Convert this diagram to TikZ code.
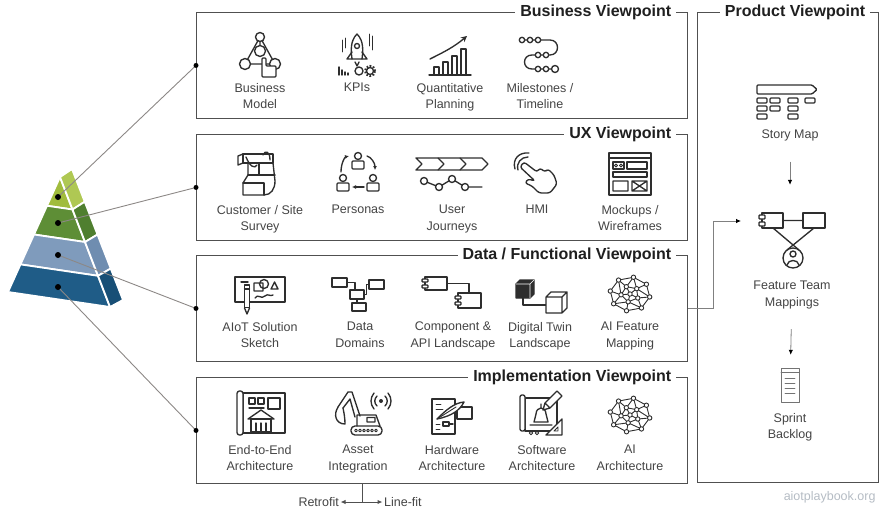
\documentclass[tikz,border=0pt]{standalone}
\usepackage{fontspec}
\setmainfont{Liberation Sans}
\usetikzlibrary{arrows.meta,positioning,calc}
\definecolor{frame}{HTML}{505050}
\definecolor{ink}{HTML}{2E2E2E}
\definecolor{txt}{HTML}{444444}
\definecolor{linkc}{HTML}{8C8886}
\definecolor{site}{HTML}{B5BCC4}
\definecolor{pyrA}{HTML}{A1BC3D}
\definecolor{pyrAs}{HTML}{AFC853}
\definecolor{pyrB}{HTML}{5E8E36}
\definecolor{pyrBs}{HTML}{4F7F2F}
\definecolor{pyrC}{HTML}{7F9BBC}
\definecolor{pyrCs}{HTML}{6F8DB0}
\definecolor{pyrD}{HTML}{1F5C87}
\definecolor{pyrDs}{HTML}{184F76}

\begin{document}
\begin{tikzpicture}[x=1pt,y=-1pt,
 vp/.style={draw=frame,line width=1.4pt,minimum height=105.5pt,inner sep=0pt,anchor=north west},
 vptitle/.style={fill=white,font=\fontsize{16}{18}\selectfont\bfseries,text=black!88,inner xsep=5pt,inner ysep=1pt},
 lbl/.style={align=center,font=\fontsize{12.5}{16.5}\selectfont,text=txt,anchor=north,inner sep=0pt},
 ic/.style={draw=ink,line width=1.35pt,line cap=round,line join=round},
 thinic/.style={ic,line width=0.9pt},
 link/.style={draw=linkc,line width=0.9pt},
 dot/.style={circle,fill=black,inner sep=0pt,minimum size=#1},dot/.default=5pt,
 tier/.style={draw=white,line width=1.8pt,line join=round},
 parr/.style={draw=black!50,line width=0.8pt,-{Latex[length=5pt,width=4.5pt,color=black]}}]
\useasboundingbox (0,0) rectangle (882,511);

\node[vp,minimum width=491pt] (biz) at (196,12) {};
\node[vp,minimum width=491pt] (ux) at (196,134) {};
\node[vp,minimum width=491pt] (data) at (196,255) {};
\node[vp,minimum width=491pt] (impl) at (196,377) {};
\node[vp,minimum width=181pt,minimum height=470pt] (prod) at (697,12) {};
\node[vptitle,anchor=east] (tbiz) at ([xshift=-12pt]biz.north east) {Business Viewpoint};
\node[vptitle,anchor=east] (tux) at ([xshift=-12pt]ux.north east) {UX Viewpoint};
\node[vptitle,anchor=east] (tdata) at ([xshift=-12pt]data.north east) {Data / Functional Viewpoint};
\node[vptitle,anchor=east] (timpl) at ([xshift=-12pt]impl.north east) {Implementation Viewpoint};
\node[vptitle] (tprod) at (795,12) {Product Viewpoint};

% pyramid
\coordinate (pA) at (60,177);
\coordinate (pL) at (8,292);
\coordinate (pR) at (110,307);
\coordinate (pT) at (72,169);
\coordinate (pS) at (123,300);
\foreach \ta/\tb/\cf/\cs in {0/.25/pyrA/pyrAs,.25/.5/pyrB/pyrBs,.5/.76/pyrC/pyrCs,.76/1/pyrD/pyrDs}{
  \filldraw[tier,fill=\cf] ($(pA)!\ta!(pL)$) -- ($(pA)!\tb!(pL)$) -- ($(pA)!\tb!(pR)$) -- ($(pA)!\ta!(pR)$) -- cycle;
  \filldraw[tier,fill=\cs] ($(pA)!\ta!(pR)$) -- ($(pT)!\ta!(pS)$) -- ($(pT)!\tb!(pS)$) -- ($(pA)!\tb!(pR)$) -- cycle;
}
\foreach \y/\b [count=\i] in {197/biz,223/ux,255/data,287/impl}{
  \coordinate (lv\i) at (58,\y);
  \draw[link] (lv\i) -- (\b.west);
  \node[dot=6pt] (pd\i) at (lv\i) {};
  \node[dot] (bd\i) at (\b.west) {};
}

% business
\node[lbl] (bmodel) at (260,83) {Business\\Model};
\node[lbl] (kpis) at (357,83) {KPIs};
\node[lbl] (qplan) at (450,83) {Quantitative\\Planning};
\node[lbl] (miles) at (540,83) {Milestones /\\Timeline};
\begin{scope}[shift={(260,55)}]
  \draw[ic] (0,-18) -- (-15,9) -- (15,9) -- cycle (0,-18) -- (0,-4);
  \draw[ic,fill=white] (0,-18) circle (4.5pt) (0,-4) circle (5.5pt) (-15,9) circle (5.5pt) (15,9) circle (5.5pt);
  \draw[ic,fill=white,rounded corners=1pt] (2,3) -- (6,3) -- (6,11) -- (16,11) -- (16,22) -- (2,22) -- cycle;
\end{scope}
\begin{scope}[shift={(357,55)}]
  \draw[ic] (0,-21) .. controls (7,-14) and (6,-4) .. (5,4) -- (-5,4) .. controls (-6,-4) and (-7,-14) .. cycle;
  \draw[ic] (0,-9) circle (2.5pt);
  \draw[ic] (-5,-3) -- (-10,4) -- (-5,4) (5,-3) -- (10,4) -- (5,4) (-2,7) -- (0,11) -- (2,7);
  \draw[thinic] (-15,-15) -- (-15,-3) (-12,-17) -- (-12,-7) (12,-21) -- (12,-9) (15,-19) -- (15,-5);
  \draw[ic] (-18,20) -- (-18,12) (-15,20) -- (-15,15) (-12,20) -- (-12,17) (-9,20) -- (-9,18);
  \draw[ic] (2,16) circle (4pt) (13,16) circle (3.5pt);
  \draw[ic,line width=2.2pt,line cap=butt,dash pattern=on 1.6pt off 1.6pt] (13,16) circle (5pt);
\end{scope}
\begin{scope}[shift={(450,55)}]
  \draw[ic] (-21,20) -- (21,20);
  \draw[ic] (-16,20) |- (-11,12) -- (-11,20) (-7,20) |- (-2,7) -- (-2,20) (2,20) |- (7,1) -- (7,20) (11,20) |- (16,-6) -- (16,20);
  \draw[ic,-{Stealth[length=6pt,width=6pt]}] (-20,4) .. controls (-6,-3) and (4,-8) .. (17,-19);
\end{scope}
\begin{scope}[shift={(540,55)}]
  \draw[ic] (-18,-15) -- (10,-15) .. controls (20,-15) and (20,0) .. (10,0) -- (-8,0) .. controls (-18,0) and (-18,14) .. (-8,14) -- (15,14);
  \foreach \px/\py in {-18/-15,-10/-15,-2/-15,-2/0,6/0,-2/14,6/14}
    \draw[ic,fill=white] (\px,\py) circle (2.7pt);
  \draw[ic,fill=white] (15,14) circle (3.5pt);
\end{scope}

% ux
\node[lbl] (survey) at (260,205) {Customer / Site\\Survey};
\node[lbl] (personas) at (358,205) {Personas};
\node[lbl] (journeys) at (452,205) {User\\Journeys};
\node[lbl] (hmi) at (537,205) {HMI};
\node[lbl] (mockups) at (630,205) {Mockups /\\Wireframes};
\begin{scope}[shift={(260,175)}]
  \draw[ic] (-17,-21) rectangle (13,-12);
  \draw[ic] (-17,-21) -- (-22,-19) -- (-22,-10) -- (-17,-12);
  \draw[ic] (-12,-12) -- (-12,0) -- (-17,8) -- (-17,20) -- (4,20) .. controls (11,20) and (15,14) .. (15,6) -- (13,-12);
  \draw[ic] (-12,0) -- (15,0) (-17,8) -- (4,8) -- (4,20) (-1,-12) -- (-1,0);
  \draw[ic] (-14,-18) .. controls (-10,-8) and (-5,-6) .. (-3,-10);
  \draw[ic] (3,-20) .. controls (5,-25) and (10,-24) .. (10,-15);
\end{scope}
\begin{scope}[shift={(358,175)}]
  \foreach \px/\py in {0/-14,-15/8,15/8}{
    \draw[ic] (\px,\py-5) circle (3.5pt);
    \draw[ic,rounded corners=1pt] (\px-6,\py) rectangle (\px+6,\py+8);
  }
  \draw[ic,-{Latex[length=4pt,width=4pt]}] (-17,-3) .. controls (-17,-12) and (-13,-18) .. (-9,-19);
  \draw[ic,-{Latex[length=4pt,width=4pt]}] (9,-19) .. controls (13,-18) and (17,-12) .. (17,-5);
  \draw[ic,-{Latex[length=4pt,width=4pt]}] (6,12) -- (-6,12);
\end{scope}
\begin{scope}[shift={(452,175)}]
  \draw[ic] (-36,-17) -- (30,-17) -- (36,-11) -- (30,-5) -- (-36,-5) -- (-30,-11) -- cycle;
  \draw[ic] (-14,-17) -- (-8,-11) -- (-14,-5) (8,-17) -- (14,-11) -- (8,-5);
  \draw[ic] (-28,6) -- (-13,12) -- (0,4) -- (13,12) -- (30,12);
  \foreach \px/\py in {-28/6,-13/12,0/4,13/12}
    \draw[ic,fill=white] (\px,\py) circle (3.5pt);
\end{scope}
\begin{scope}[shift={(537,175)}]
  \draw[ic,rounded corners=2.5pt] (-13,-13) -- (0,-3) -- (3,-7) -- (8,-3) -- (11,-6) -- (17,0) -- (20,9) -- (13,18) -- (2,18) -- (-5,11) -- (-12,8) -- (-9,4) -- (-2,6) -- (-17,-8) -- cycle;
  \draw[ic] (-22,-6) .. controls (-25,-16) and (-18,-23) .. (-8,-22);
  \draw[ic] (-19,-5) .. controls (-21,-12) and (-16,-18) .. (-9,-18);
\end{scope}
\begin{scope}[shift={(630,175)}]
  \draw[ic] (-21,-22) rectangle (21,20) (-21,-17) -- (21,-17);
  \draw[ic] (-17,-13) rectangle (-6,-6) (-3,-13) rectangle (17,-6) (-17,-3) rectangle (17,2);
  \draw[thinic] (-14,-9.5) circle (1.5pt) (-9,-9.5) circle (1.5pt);
  \draw[ic] (-17,6) rectangle (-2,16) (2,6) rectangle (17,16) (2,6) -- (17,16) (2,16) -- (17,6);
\end{scope}

% data / functional
\node[lbl] (sketch) at (260,322) {AIoT Solution\\Sketch};
\node[lbl] (domains) at (360,322) {Data\\Domains};
\node[lbl] (complan) at (453,322) {Component \&\\API Landscape};
\node[lbl] (twin) at (540,322) {Digital Twin\\Landscape};
\node[lbl] (aimap) at (630,322) {AI Feature\\Mapping};
\begin{scope}[shift={(260,292)}]
  \draw[ic] (-25,-15) rectangle (25,10);
  \draw[ic] (-19,-10) -- (-12,-10);
  \draw[ic] (-6,-9) rectangle (3,-1) (4,-8) circle (4.5pt);
  \draw[ic] (11,-3) -- (14.5,-10) -- (18,-3) -- cycle;
  \draw[ic] (-5,6) .. controls (-2,1) and (1,8) .. (5,4) .. controls (8,1) and (10,5) .. (13,3);
  \draw[ic,fill=white] (-15.5,-7) rectangle (-10.5,16);
  \draw[ic,fill=white] (-15.5,16) -- (-13,22) -- (-10.5,16);
  \draw[ic] (-15.5,-3) -- (-10.5,-3);
\end{scope}
\begin{scope}[shift={(360,292)}]
  \draw[ic] (-28,-14) rectangle (-13,-5) (-10,-2) rectangle (4,7) (9,-12) rectangle (24,-3) (-8,11) rectangle (6,19);
  \draw[ic] (-13,-9.5) -- (-5,-9.5) -- (-5,-2) (4,2.5) -- (6.5,2.5) -- (6.5,-7.5) -- (9,-7.5) (-3,7) -- (-3,11);
\end{scope}
\begin{scope}[shift={(453,292)}]
  \draw[ic] (-28,-15) rectangle (-6,-2) (5,1) rectangle (28,16);
  \draw[ic] (-6,-8.5) -- (16,-8.5) -- (16,1);
  \draw[ic,fill=white,rounded corners=0.8pt] (-31,-13) rectangle (-25,-10) (-31,-7) rectangle (-25,-4) (2,4) rectangle (8,7) (2,10) rectangle (8,13);
\end{scope}
\begin{scope}[shift={(540,292)}]
  \draw[ic] (-17,6) -- (-17,13) -- (6,13);
  \filldraw[ic,fill=ink] (-24,-8) rectangle (-10,6) (-24,-8) -- (-20,-12) -- (-6,-12) -- (-10,-8) -- cycle (-10,-8) -- (-6,-12) -- (-6,2) -- (-10,6) -- cycle;
  \draw[white,line width=0.6pt] (-10,6) -- (-10,-8) -- (-24,-8) (-10,-8) -- (-6,-12);
  \draw[ic,fill=white] (6,5) rectangle (22,21) (6,5) -- (11,0) -- (27,0) -- (22,5) (22,21) -- (27,16) -- (27,0);
\end{scope}
\foreach \mx/\my in {630/294,630/415}{
\begin{scope}[shift={(\mx,\my)}]
  \foreach \i in {1,...,8} \coordinate (mo\i) at ({20*cos(45*\i+10)},{17*sin(45*\i+10)});
  \foreach \i in {1,...,5} \coordinate (mi\i) at ({9*cos(72*\i+30)},{8*sin(72*\i+30)});
  \coordinate (mc) at (0,0);
  \draw[thinic] (mo1) -- (mo2) -- (mo3) -- (mo4) -- (mo5) -- (mo6) -- (mo7) -- (mo8) -- cycle (mi1) -- (mi2) -- (mi3) -- (mi4) -- (mi5) -- cycle;
  \foreach \u/\v in {mo1/mi5,mo1/mi1,mo2/mi1,mo3/mi1,mo3/mi2,mo4/mi2,mo5/mi2,mo5/mi3,mo6/mi3,mo6/mi4,mo7/mi4,mo8/mi4,mo8/mi5,mc/mi1,mc/mi2,mc/mi3,mc/mi4,mc/mi5}
    \draw[thinic] (\u) -- (\v);
  \foreach \n in {mo1,mo2,mo3,mo4,mo5,mo6,mo7,mo8,mi1,mi2,mi3,mi4,mi5,mc}
    \filldraw[thinic,fill=white] (\n) circle (2.2pt);
\end{scope}}

% implementation
\node[lbl] (e2e) at (260,445) {End-to-End\\Architecture};
\node[lbl] (asset) at (358,445) {Asset\\Integration};
\node[lbl] (hwarch) at (452,445) {Hardware\\Architecture};
\node[lbl] (swarch) at (542,445) {Software\\Architecture};
\node[lbl] (aiarch) at (630,445) {AI\\Architecture};
\begin{scope}[shift={(261,413)}]
  \draw[ic] (-18,-20) rectangle (24,20);
  \draw[ic,fill=white,rounded corners=2.5pt] (-24,-22) rectangle (-18,22);
  \draw[ic] (-12,-15) rectangle (-6,-9) (-3,-15) rectangle (3,-9) (7,-15) rectangle (19,-4) (-12,-5) -- (3,-5);
  \draw[ic,fill=white] (-13,6) -- (0,-3) -- (13,6) -- cycle;
  \draw[ic] (-10,6) rectangle (10,19) (-5,10) -- (-5,19) (0,10) -- (0,19) (5,10) -- (5,19);
\end{scope}
\begin{scope}[shift={(360,413)}]
  \draw[ic,rounded corners=4pt] (-9,13) rectangle (22,22);
  \foreach \w in {-4,0,...,18} \draw[thinic] (\w,17.5) circle (1.4pt);
  \draw[ic] (-3,13) -- (-3,2) -- (16,2) -- (20,13) (7,4.5) rectangle (15,9);
  \draw[ic] (0,3) -- (-8,-21) -- (-12,-21) -- (-22,-6) (-5,4) -- (-10,-14) -- (-17,-5);
  \draw[ic] (-22,-6) .. controls (-27,2) and (-24,11) .. (-15,11) .. controls (-15,5) and (-16,0) .. (-17,-5);
  \fill[ink] (21,-12) circle (2pt);
  \draw[ic] (17,-17) .. controls (14,-14) and (14,-10) .. (17,-7) (25,-17) .. controls (28,-14) and (28,-10) .. (25,-7);
  \draw[ic] (14,-20) .. controls (10,-15) and (10,-9) .. (14,-4) (28,-20) .. controls (32,-15) and (32,-9) .. (28,-4);
\end{scope}
\begin{scope}[shift={(452,416)}]
  \draw[ic] (-20,-17) rectangle (3,18);
  \draw[ic,fill=white] (5,-9) rectangle (20,3);
  \draw[thinic] (-16,-12) -- (-11,-12) (-16,-7) -- (-9,-7) (-16,8) -- (-12,8) (-16,13) -- (-12,13);
  \draw[ic] (-9,6) rectangle (-3,10) (-3,8) -- (1,8);
  \draw[ic,fill=white] (-15,3) .. controls (-6,-6) and (2,-13) .. (12,-14) .. controls (8,-6) and (0,0) .. cycle;
  \draw[thinic] (-15,3) -- (4,-9);
\end{scope}
\begin{scope}[shift={(541,414)}]
  \draw[ic] (-16,-16) rectangle (16,17);
  \draw[ic,fill=white,rounded corners=2pt] (-21,-19) rectangle (-16,17);
  \draw[ic] (-7,8) -- (-5,0) .. controls (-5,-4) and (-2,-6) .. (0,-6) .. controls (2,-6) and (5,-4) .. (5,0) -- (7,8) -- cycle (0,-6) -- (0,-10) (-11,11) -- (11,11);
  \draw[ic,fill=white] (16,-23) -- (21,-18) -- (9,-6) -- (4,-11) -- cycle (4,-11) -- (2,-4) -- (9,-6);
  \draw[ic,fill=white] (5,21) -- (21,5) -- (21,21) -- cycle;
  \draw[thinic] (13,17) -- (17,13) -- (17,17) -- cycle (-10,19) circle (1.8pt) (-4,19) circle (1.8pt);
\end{scope}
\coordinate (rfj) at (362,502);
\node[lbl,anchor=east] (retro) at (339,502) {Retrofit};
\node[lbl,anchor=west] (lfit) at (384,502) {Line-fit};
\draw[draw=frame,line width=1pt] (impl.south -| rfj) -- (rfj);
\draw[draw=frame,line width=1pt,-{Latex[length=5pt,width=4.5pt]},shorten >=1.5pt] (rfj) -- (retro.east);
\draw[draw=frame,line width=1pt,-{Latex[length=5pt,width=4.5pt]},shorten >=1.5pt] (rfj) -- (lfit.west);

% product
\node[lbl] (smap) at (790,130) {Story Map};
\node[lbl] (ftmap) at (792,281) {Feature Team\\Mappings};
\node[lbl] (sback) at (790,413) {Sprint\\Backlog};
\node[inner sep=0pt,minimum width=64pt,minimum height=56pt] (fticon) at (790,240) {};
\node[inner sep=0pt,minimum width=20pt,minimum height=34pt] (sbicon) at (790,385) {};
\coordinate (ftin) at (741,221);
\begin{scope}[shift={(788,103)}]
  \draw[ic,rounded corners=1pt] (-31,-18) -- (24,-18) -- (29,-13.5) -- (24,-9) -- (-31,-9) -- cycle;
  \foreach \cx/\n in {-31/3,-18/2,0/3,17/1}
    \foreach \r in {1,...,\n}
      \draw[ic,rounded corners=1pt] (\cx,-13+8*\r) rectangle ++(10,5);
\end{scope}
\begin{scope}[shift={(792,240)}]
  \draw[ic] (-9,-19.5) -- (11,-19.5) (-19,-12) -- (7,10) (22,-12) -- (-5,10);
  \draw[ic] (-30,-27) rectangle (-9,-12) (11,-27) rectangle (33,-12);
  \draw[ic,fill=white,rounded corners=0.8pt] (-33,-25) rectangle (-27,-21) (-33,-18) rectangle (-27,-14);
  \draw[ic,fill=white] (1,18) circle (10pt);
  \draw[ic] (1,14) circle (3pt) (-5,25) .. controls (-4,19) and (6,19) .. (7,25);
\end{scope}
\begin{scope}[shift={(790,385)}]
  \draw[thinic,draw=black!55] (-9,-17) rectangle (9,17) (-9,-13) -- (9,-13);
  \foreach \ly in {-7,-2,3,8} \draw[thinic,draw=black!55] (-5,\ly) -- (5,\ly);
\end{scope}
\draw[parr,shorten <=20pt,shorten >=27pt] (smap) -- (fticon);
\draw[parr,shorten <=20pt,shorten >=13pt] (ftmap) -- (sbicon);
\draw[parr] (data.east) -- ++(25,0) |- (ftin);

\node[anchor=east,font=\fontsize{12.5}{14}\selectfont,text=site] (web) at (879,497) {aiotplaybook.org};
\end{tikzpicture}
\end{document}
